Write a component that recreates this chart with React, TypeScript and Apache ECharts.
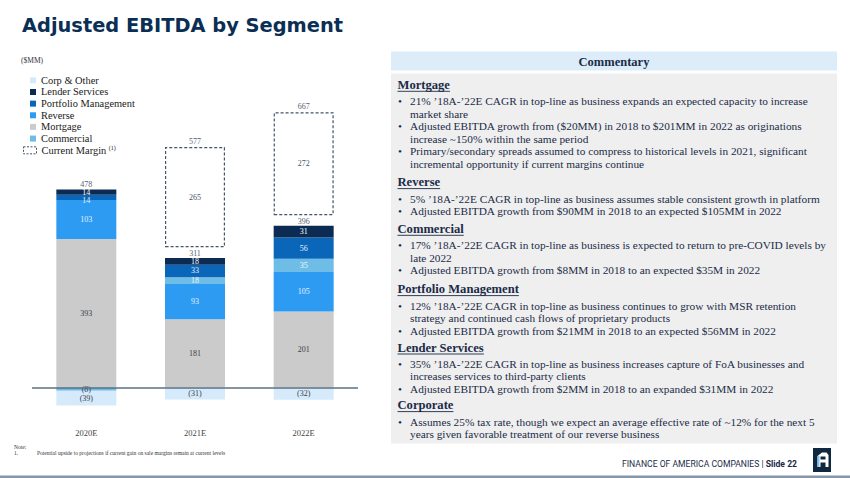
import React, { useEffect, useRef } from 'react';
import * as echarts from 'echarts';

// ---------- data ----------
const categories = ['2020E', '2021E', '2022E'];
const mortgage = [393, 181, 201];
const reverse = [103, 93, 105];
const commercial = [-8, 18, 35];
const portfolio = [14, 33, 56];
const lender = [14, 18, 31];
const corp = [-39, -31, -32];
const totals = [478, 311, 396];
const currentMargin: (number | string)[] = ['-', 265, 272];
const marginTotals: (number | string)[] = ['-', 577, 667];

const legendNames = ['Corp & Other', 'Lender Services', 'Portfolio Management', 'Reverse', 'Mortgage', 'Commercial'];

const sectionTitles = ['Mortgage', 'Reverse', 'Commercial', 'Portfolio Management', 'Lender Services', 'Corporate'];
const sectionBullets: string[][][] = [
  [
    ['21% ’18A-’22E CAGR in top-line as business expands an expected capacity to increase', 'market share'],
    ['Adjusted EBITDA growth from ($20MM) in 2018 to $201MM in 2022 as originations', 'increase ~150% within the same period'],
    ['Primary/secondary spreads assumed to compress to historical levels in 2021, significant', 'incremental opportunity if current margins continue'],
  ],
  [
    ['5% ’18A-’22E CAGR in top-line as business assumes stable consistent growth in platform'],
    ['Adjusted EBITDA growth from $90MM in 2018 to an expected $105MM in 2022'],
  ],
  [
    ['17% ’18A-’22E CAGR in top-line as business is expected to return to pre-COVID levels by', 'late 2022'],
    ['Adjusted EBITDA growth from $8MM in 2018 to an expected $35M in 2022'],
  ],
  [
    ['12% ’18A-’22E CAGR in top-line as business continues to grow with MSR retention', 'strategy and continued cash flows of proprietary products'],
    ['Adjusted EBITDA growth from $21MM in 2018 to an expected $56MM in 2022'],
  ],
  [
    ['35% ’18A-’22E CAGR in top-line as business increases capture of FoA businesses and', 'increases services to third-party clients'],
    ['Adjusted EBITDA growth from $2MM in 2018 to an expanded $31MM in 2022'],
  ],
  [
    ['Assumes 25% tax rate, though we expect an average effective rate of ~12% for the next 5', 'years given favorable treatment of our reverse business'],
  ],
];

// ---------- styles ----------
const SERIF = '"Liberation Serif", "Times New Roman", serif';
const SANS = '"DejaVu Sans", Verdana, sans-serif';
const TEXT_NAVY = '#1b2b47';
const C_LENDER = '#0c2b52';
const C_PORT = '#0a66b8';
const C_REV = '#2e9bf3';
const C_MORT = '#cbcbcb';
const C_COMM = '#6dbde6';
const C_CORP = '#d5eafb';
const STACK_GAP = 28;
const LABEL_SIZE = 8;
const LABEL_LH = 7;

const fmt = (v: number) => (v < 0 ? `(${-v})` : `${v}`);

function measure(text: string, font: string): number {
  const c = document.createElement('canvas').getContext('2d');
  if (!c) return text.length * 6;
  c.font = font;
  return c.measureText(text).width;
}

function txt(x: number, y: number, text: string, font: string, fill: string, align = 'left') {
  return { type: 'text', x, y, silent: true, style: { text, font, fill, align, verticalAlign: 'middle' } };
}

function buildGraphics() {
  const g: any[] = [];
  // title
  g.push(txt(22, 25.5, 'Adjusted EBITDA by Segment', `bold 19.4px ${SANS}`, '#0b2e55'));
  g.push(txt(21, 60.5, '($MM)', `7.5px ${SERIF}`, '#333'));

  // commentary panel
  g.push({ type: 'rect', silent: true, shape: { x: 391, y: 51.5, width: 446, height: 19 }, style: { fill: '#dcedf9' } });
  g.push({ type: 'rect', silent: true, shape: { x: 391, y: 73.5, width: 446, height: 370 }, style: { fill: '#efefef' } });
  g.push(txt(614, 61.8, 'Commentary', `bold 12.5px ${SERIF}`, TEXT_NAVY, 'center'));

  const headerY = [85, 182.3, 229, 289.3, 347.7, 405.3];
  const headFont = `bold 12.6px ${SERIF}`;
  const bodyFont = `11.3px ${SERIF}`;
  sectionTitles.forEach((t, i) => {
    const y = headerY[i];
    g.push(txt(397.5, y, t, headFont, TEXT_NAVY));
    const w = measure(t, headFont);
    g.push({ type: 'line', silent: true, shape: { x1: 397.5, y1: y + 6.3, x2: 397.5 + w, y2: y + 6.3 }, style: { stroke: TEXT_NAVY, lineWidth: 0.9 } });
    let ly = y + 16.2;
    sectionBullets[i].forEach((lines) => {
      lines.forEach((ln, k) => {
        if (k === 0) g.push(txt(398, ly, '•', bodyFont, TEXT_NAVY));
        g.push(txt(410, ly, ln, bodyFont, TEXT_NAVY));
        ly += 12.55;
      });
    });
  });

  // footnote
  g.push(txt(14, 447, 'Note:', `5.5px ${SERIF}`, '#333'));
  g.push(txt(14, 453, '1.', `5.5px ${SERIF}`, '#333'));
  g.push(txt(37, 453, 'Potential upside to projections if current gain on sale margins remain at current levels', `5.5px ${SERIF}`, '#333'));

  // footer
  g.push({
    type: 'text', x: 797, y: 464, silent: true,
    style: {
      text: '{a|FINANCE OF AMERICA COMPANIES | }{b|Slide 22}', align: 'right', verticalAlign: 'middle',
      rich: {
        a: { fontFamily: 'Roboto', fontSize: 8.6, fill: TEXT_NAVY, color: TEXT_NAVY },
        b: { fontFamily: 'Roboto', fontSize: 8.6, fontWeight: 'bold', fill: TEXT_NAVY, color: TEXT_NAVY },
      },
    },
  });
  // logo
  g.push({ type: 'rect', silent: true, shape: { x: 813, y: 448, width: 18, height: 24 }, style: { fill: '#10283f' } });
  g.push({
    type: 'polygon', silent: true,
    shape: { points: [[817.5, 467], [817.5, 456], [822, 452.5], [826.5, 452.5], [828.5, 455], [828.5, 467], [825.5, 467], [825.5, 462.5], [820.5, 462.5], [820.5, 467]] },
    style: { fill: '#ffffff' },
  });
  g.push({ type: 'rect', silent: true, shape: { x: 820.5, y: 456.5, width: 5, height: 3 }, style: { fill: '#10283f' } });
  g.push({ type: 'rect', silent: true, shape: { x: 817.5, y: 456, width: 2, height: 11 }, style: { fill: '#7fc4ef' } });

  // bottom rule
  g.push({ type: 'rect', silent: true, shape: { x: 0, y: 475.5, width: 850, height: 2.5 }, style: { fill: '#8396aa' } });
  return g;
}

const barLabel = (color: string) => ({
  show: true,
  position: 'inside',
  color,
  fontFamily: SERIF,
  fontSize: LABEL_SIZE,
  lineHeight: LABEL_LH,
  formatter: (p: any) => fmt(p.value),
});

export default function App() {
  const ref = useRef<HTMLDivElement>(null);
  useEffect(() => {
    if (!ref.current) return;
    const chart = echarts.init(ref.current, undefined, { renderer: 'svg' });
    const common = { type: 'bar', stack: 'total', barWidth: 60 };
    const option: any = {
      animation: false,
      backgroundColor: '#ffffff',
      grid: { left: 32, right: 492, top: 85, bottom: 52.5 },
      xAxis: {
        type: 'category',
        data: categories,
        axisLine: { show: false },
        axisTick: { show: false },
        axisLabel: { color: '#444', fontFamily: SERIF, fontSize: 8.5, margin: 3 },
      },
      yAxis: { type: 'value', min: -100, max: 800, show: false, splitLine: { show: false } },
      legend: [
        {
          data: legendNames,
          orient: 'vertical',
          left: 30,
          top: 74.5,
          padding: 0,
          itemWidth: 6,
          itemHeight: 6,
          itemGap: 0,
          icon: 'rect',
          selectedMode: false,
          textStyle: { fontFamily: SERIF, fontSize: 10.4, color: '#1a1a1a', lineHeight: 11.65 },
        },
        {
          data: [{ name: 'Current Margin', itemStyle: { color: 'transparent', borderColor: '#44546a', borderWidth: 1, borderType: [2, 1.5] } }],
          orient: 'vertical',
          left: 23,
          top: 144.5,
          padding: 0,
          itemWidth: 13,
          itemHeight: 7,
          icon: 'rect',
          selectedMode: false,
          formatter: () => '{m|Current Margin }{s|(1)}',
          textStyle: {
            fontFamily: SERIF, fontSize: 10.4, color: '#1a1a1a', lineHeight: 11.65,
            rich: {
              m: { fontFamily: SERIF, fontSize: 10.4, color: '#1a1a1a' },
              s: { fontFamily: SERIF, fontSize: 6, color: '#1a1a1a', padding: [0, 0, 4, 0] },
            },
          },
        },
      ],
      series: [
        {
          ...common, name: 'Mortgage', data: mortgage, itemStyle: { color: C_MORT }, label: barLabel('#3a3f48'),
          markLine: {
            silent: true, symbol: 'none', label: { show: false },
            lineStyle: { color: '#5c7182', width: 1.5, type: 'solid' },
            data: [{ yAxis: 0 }],
          },
        },
        { ...common, name: 'Reverse', data: reverse, itemStyle: { color: C_REV }, label: barLabel('#e3f1ff') },
        {
          ...common, name: 'Commercial',
          data: commercial.map((v) => ({ value: v, label: { color: v < 0 ? '#3a3f48' : '#eef7fd' } })),
          itemStyle: { color: C_COMM },
          label: barLabel('#eef7fd'),
        },
        {
          ...common, name: 'Portfolio Management',
          data: portfolio.map((v, i) => (i === 0 ? { value: v, label: { offset: [0, 2.7] } } : v)),
          itemStyle: { color: C_PORT }, label: barLabel('#e3f1ff'),
        },
        { ...common, name: 'Lender Services', data: lender, itemStyle: { color: C_LENDER }, label: barLabel('#ffffff') },
        { ...common, name: 'Corp & Other', data: corp, itemStyle: { color: C_CORP }, label: barLabel('#3a3f48') },
        {
          ...common, name: 'spacer', data: categories.map(() => STACK_GAP), itemStyle: { color: 'transparent' },
          label: {
            show: true, position: 'insideBottom', distance: 1.2, color: '#5a6270', fontFamily: SERIF, fontSize: LABEL_SIZE, lineHeight: LABEL_LH,
            formatter: (p: any) => `${totals[p.dataIndex]}`,
          },
          silent: true,
        },
        {
          ...common, name: 'Current Margin', data: currentMargin,
          itemStyle: { color: 'transparent', borderColor: '#44546a', borderWidth: 1.2, borderType: [3, 2] },
          label: { show: true, position: 'inside', color: '#44546a', fontFamily: SERIF, fontSize: LABEL_SIZE },
        },
        {
          ...common, name: 'marginTop', data: currentMargin.map((v) => (v === '-' ? '-' : 0)),
          itemStyle: { color: 'transparent' }, silent: true,
          label: {
            show: true, position: 'top', distance: 2, color: '#5a6270', fontFamily: SERIF, fontSize: LABEL_SIZE,
            formatter: (p: any) => `${marginTotals[p.dataIndex]}`,
          },
        },
      ],
      graphic: buildGraphics(),
    };
    chart.setOption(option);
    return () => chart.dispose();
  }, []);
  return <div ref={ref} style={{ position: 'fixed', left: 0, top: 0, width: 850, height: 478 }} />;
}
